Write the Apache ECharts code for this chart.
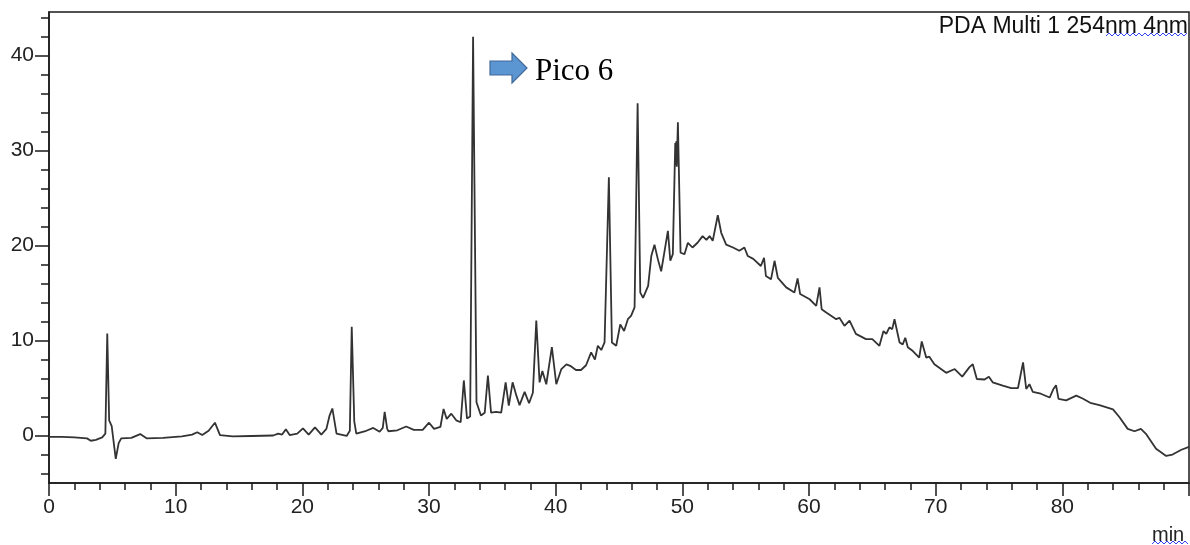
<!DOCTYPE html>
<html>
<head>
<meta charset="utf-8">
<script src="https://cdn.jsdelivr.net/npm/echarts@6/dist/echarts.min.js"></script>
<style>
html,body{margin:0;padding:0;background:#fff;}
#chart{width:1190px;height:545px;}
</style>
</head>
<body>
<div id="chart"></div>
<script>
// Retention time (min)
const times = [0.0,1.0,2.0,3.0,3.3,3.7,4.2,4.45,4.6,4.75,4.95,5.27,5.5,5.7,6.5,7.2,7.7,9.0,10.5,11.3,11.7,12.1,12.6,13.1,13.5,14.5,16.0,17.7,18.1,18.4,18.7,19.0,19.6,20.05,20.5,21.0,21.5,21.9,22.15,22.37,22.7,23.5,23.75,23.9,24.1,24.26,25.05,25.6,26.1,26.35,26.5,26.7,26.8,27.5,28.2,28.8,29.5,30.0,30.4,30.9,31.15,31.4,31.76,32.15,32.5,32.75,33.0,33.25,33.48,33.75,34.1,34.4,34.65,34.9,35.3,35.7,36.05,36.3,36.6,36.9,37.15,37.55,37.9,38.2,38.47,38.73,38.95,39.26,39.7,40.05,40.45,40.85,41.2,41.6,42.0,42.4,42.8,43.1,43.33,43.6,43.86,44.0,44.2,44.44,44.78,45.1,45.4,45.7,45.95,46.23,46.47,46.68,46.9,47.3,47.55,47.8,48.07,48.33,48.6,48.86,49.05,49.25,49.44,49.48,49.52,49.56,49.65,49.86,50.17,50.44,50.8,51.2,51.6,51.9,52.15,52.4,52.8,53.07,53.46,54.0,54.5,54.9,55.17,55.6,56.2,56.45,56.6,57.0,57.28,57.54,58.2,58.85,59.1,59.3,60.05,60.57,60.83,61.0,61.36,62.15,62.4,62.8,63.2,63.7,64.5,65.0,65.56,65.88,66.1,66.35,66.57,66.75,67.15,67.4,67.6,67.8,68.2,68.7,68.9,69.26,69.5,69.9,70.83,71.5,72.1,72.67,72.93,73.25,73.86,74.2,74.5,75.3,75.96,76.5,76.9,77.15,77.4,77.67,78.3,79.0,79.3,79.5,79.7,80.3,81.1,81.6,82.2,82.93,84.0,84.5,85.16,85.7,86.2,86.6,87.4,88.2,88.7,89.4,90.0];
// Detector signal (mAU)
const signal = [-0.15,-0.15,-0.2,-0.3,-0.55,-0.45,-0.2,0.2,10.75,1.6,1.0,-2.45,-0.8,-0.3,-0.25,0.15,-0.3,-0.25,-0.1,0.1,0.35,0.05,0.5,1.35,0.05,-0.1,-0.05,0.0,0.2,0.1,0.65,0.05,0.2,0.75,0.1,0.85,0.1,0.7,2.1,2.85,0.2,-0.05,0.5,11.45,1.5,0.2,0.5,0.8,0.4,0.8,2.5,0.7,0.45,0.55,0.95,0.6,0.6,1.35,0.7,0.9,2.8,1.75,2.3,1.6,1.4,5.8,1.8,2.0,42.0,3.5,2.1,2.4,6.3,2.4,2.5,2.4,5.6,3.15,5.6,4.2,3.2,4.6,3.4,4.5,12.1,5.6,6.8,5.4,9.3,5.4,7.0,7.5,7.3,6.9,6.9,7.4,8.75,8.0,9.45,9.0,9.8,10.0,27.2,9.8,9.45,11.7,11.0,12.25,12.6,13.5,35.0,15.05,14.5,15.75,18.9,20.1,18.55,17.3,19.45,21.55,18.4,19.1,30.8,28.5,31.0,28.3,33.0,19.25,19.1,20.3,19.8,20.3,21.0,20.6,21.0,20.5,23.2,21.35,20.1,19.8,19.45,19.8,18.9,18.6,17.85,18.7,16.8,16.45,18.4,16.6,15.6,15.05,16.55,14.9,14.35,13.65,15.6,13.3,12.95,12.25,12.4,11.55,12.1,10.7,10.15,10.15,9.45,11.0,10.7,11.4,11.2,12.25,9.8,9.6,10.3,9.3,8.9,8.2,9.9,8.2,8.3,7.5,6.6,7.0,6.2,7.2,7.5,5.95,5.9,6.2,5.6,5.25,5.0,5.0,7.7,4.9,5.4,4.6,4.4,4.0,4.9,5.3,3.85,3.7,4.2,3.9,3.45,3.2,2.75,1.95,0.7,0.45,0.7,0.18,-1.4,-2.15,-2.0,-1.5,-1.2];

const xMajorTicks = [0,10,20,30,40,50,60,70,80,90];
const xTickLabels = [0,10,20,30,40,50,60,70,80];
const yMajorTicks = [0,10,20,30,40];
const yMinorTicks = [-4,-2,2,4,6,8,12,14,16,18,22,24,26,28,32,34,36,38,42,44];
const traceTitle = 'PDA Multi 1 254nm 4nm';
const peakNote = 'Pico 6';
const xUnit = 'min';

const FONT = '"Liberation Sans", Arial, sans-serif';
const AXC = '#1a1a1a';

const chart = echarts.init(document.getElementById('chart'), null, {renderer: 'canvas'});
const data = times.map((t, i) => [t, signal[i]]);

function wavy(x0, x1, y) {
  const pts = [];
  let up = false;
  for (let x = x0; x <= x1; x += 3) { pts.push([x, up ? y - 3 : y]); up = !up; }
  return pts;
}

chart.setOption({
  animation: false,
  backgroundColor: '#fff',
  grid: {left: 49, right: 1, top: 12, bottom: 62, show: true, borderColor: AXC, borderWidth: 1.5, backgroundColor: 'transparent'},
  xAxis: {
    type: 'value', min: 0, max: 90, interval: 10,
    axisLine: {show: true, onZero: false, lineStyle: {color: AXC, width: 1.5}},
    axisTick: {show: true, length: 13, lineStyle: {color: AXC, width: 1.5}, customValues: xMajorTicks},
    minorTick: {show: true, splitNumber: 5, length: 7, lineStyle: {color: AXC, width: 1.5}},
    axisLabel: {customValues: xTickLabels, fontFamily: FONT, fontSize: 21, color: '#222', margin: 14},
    splitLine: {show: false}
  },
  yAxis: [{
    type: 'value', min: -5, max: 44.6,
    axisLine: {show: true, onZero: false, lineStyle: {color: AXC, width: 1.5}},
    axisTick: {show: true, length: 14, lineStyle: {color: AXC, width: 1.5}, customValues: yMajorTicks},
    axisLabel: {customValues: yMajorTicks, fontFamily: FONT, fontSize: 21, color: '#222', margin: 15},
    splitLine: {show: false}
  }, {
    type: 'value', min: -5, max: 44.6, position: 'left',
    axisLine: {show: false, onZero: false},
    axisTick: {show: true, length: 8, lineStyle: {color: AXC, width: 1.5}, customValues: yMinorTicks},
    axisLabel: {show: false},
    splitLine: {show: false}
  }],
  series: [{
    type: 'line', data: data, yAxisIndex: 0,
    showSymbol: false, smooth: false,
    lineStyle: {color: '#333333', width: 1.8},
    z: 3
  }],
  graphic: [
    {type: 'text', right: 2, top: 15, style: {text: traceTitle, font: '23px ' + FONT, fill: '#111'}},
    {type: 'polyline', shape: {points: wavy(1106, 1188, 36)}, style: {stroke: '#3344ee', lineWidth: 1, fill: null}},
    {type: 'polygon', shape: {points: [[490,61],[512,61],[512,53],[527,68],[512,83],[512,75],[490,75]]}, style: {fill: '#5b95d2', stroke: '#41699a', lineWidth: 1.2}},
    {type: 'text', left: 535, top: 56, style: {text: peakNote, font: '31px "Liberation Serif", "Times New Roman", serif', fill: '#000'}},
    {type: 'text', left: 1152, top: 525, style: {text: xUnit, font: '20px ' + FONT, fill: '#222'}},
    {type: 'polyline', shape: {points: wavy(1152, 1188, 544)}, style: {stroke: '#3344ee', lineWidth: 1, fill: null}}
  ]
});
</script>
</body>
</html>
